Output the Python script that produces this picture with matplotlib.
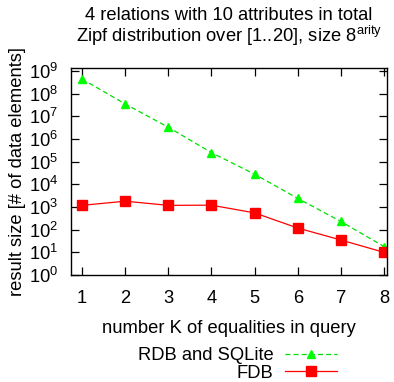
import matplotlib
matplotlib.use("Agg")
import matplotlib.pyplot as plt
from matplotlib.ticker import FixedLocator, FixedFormatter

plt.rcParams['font.family'] = ['Liberation Sans', 'DejaVu Sans']
plt.rcParams['mathtext.fontset'] = 'custom'
plt.rcParams['mathtext.rm'] = 'Liberation Sans'
plt.rcParams['mathtext.it'] = 'Liberation Sans'

k_values = [1, 2, 3, 4, 5, 6, 7, 8]
rdb_sqlite = [4.4e8, 3.5e7, 3.3e6, 2.5e5, 2.8e4, 2.4e3, 2.3e2, 18]
fdb = [1180, 1800, 1180, 1200, 550, 118, 35, 10]
y_tick_exps = [0, 1, 2, 3, 4, 5, 6, 7, 8, 9]

FS = 13.2

fig = plt.figure(figsize=(3.94, 3.82), dpi=100)
ax = fig.add_axes([71/394, 1-275/382, (387-71)/394, (275-68)/382])

ax.plot(k_values, rdb_sqlite, color='#00e000', linestyle=(0, (4, 2.5)), linewidth=0.9,
        marker='^', markersize=5.5, markerfacecolor='#00ff00', markeredgecolor='#00ff00',
        label='RDB and SQLite')
ax.plot(k_values, fdb, color='#ff0000', linestyle='-', linewidth=0.9,
        marker='s', markersize=7, markerfacecolor='#ff0000', markeredgecolor='#ff0000',
        label='FDB')

ax.set_yscale('log')
ax.set_xlim(0.745, 8.07)
ax.set_ylim(1, 10**9.13)
ax.xaxis.set_major_locator(FixedLocator(k_values))
ax.set_xticklabels([str(k) for k in k_values])
ax.yaxis.set_major_locator(FixedLocator([10.0**e for e in y_tick_exps]))
ax.yaxis.set_major_formatter(FixedFormatter([r'$\mathregular{10^{%d}}$' % e for e in y_tick_exps]))
ax.yaxis.set_minor_locator(FixedLocator([]))

ax.tick_params(which='major', direction='in', top=True, right=True, length=6, width=0.9,
               labelsize=FS)
ax.tick_params(axis='x', pad=11)
ax.tick_params(axis='y', pad=9)
for s in ax.spines.values():
    s.set_linewidth(1.0)

ax.set_xlabel('number K of equalities in query', fontsize=FS, labelpad=9)
ax.set_ylabel('result size [# of data elements]', fontsize=FS, labelpad=2)
ax.set_title('4 relations with 10 attributes in total\n'
             r'Zipf distribution over [1..20], size $\mathregular{8^{arity}}$',
             fontsize=FS, pad=19, linespacing=0.95)

leg = ax.legend(loc='upper right', bbox_to_anchor=(337/394, 1-347/382),
                bbox_transform=fig.transFigure, frameon=False, markerfirst=False,
                numpoints=1, handlelength=2.85, fontsize=FS, labelspacing=0.03,
                handletextpad=0.6, borderpad=0, borderaxespad=0)

fig.savefig('out.png', dpi=100)
